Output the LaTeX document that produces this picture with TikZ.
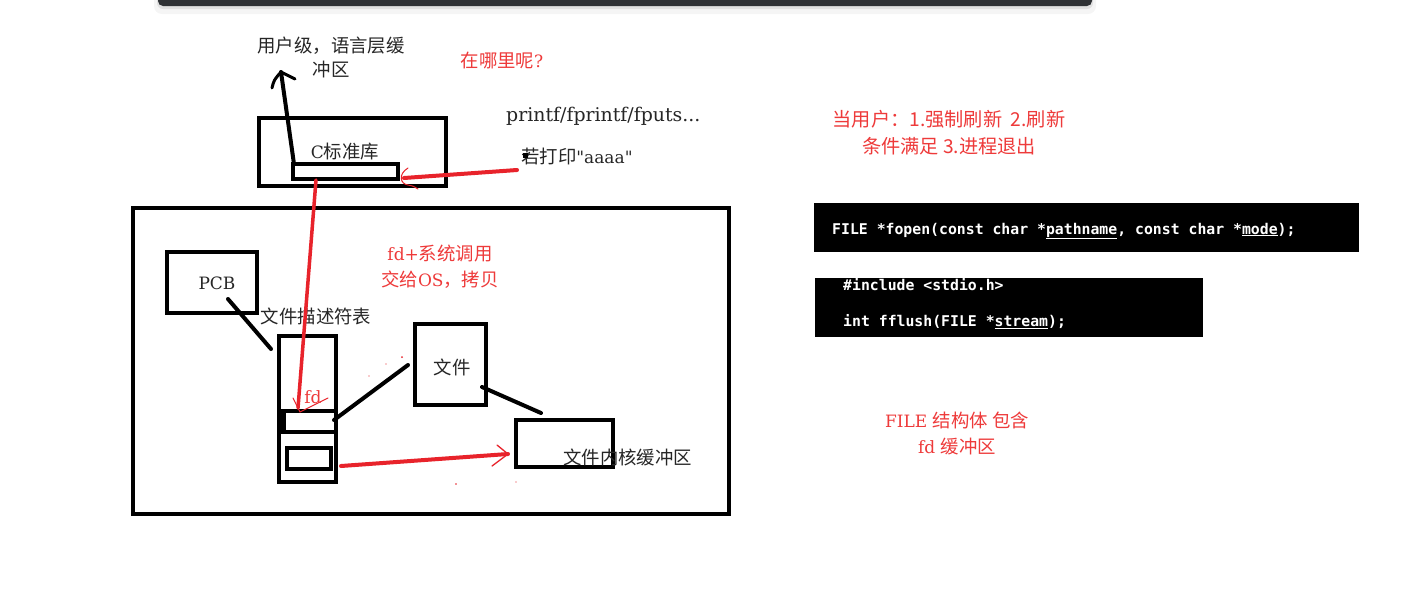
\documentclass[tikz,border=0pt]{standalone}
\usepackage{fontspec}
\setmainfont{DejaVu Serif}[Ligatures=TeXOff]
\newfontfamily\cjk{Noto Sans CJK SC}
\newfontfamily\codefont{DejaVu Sans Mono}
\definecolor{rd}{HTML}{E8232B}
\definecolor{rdt}{HTML}{EE3A3A}
\definecolor{bar}{HTML}{2F3235}
\tikzset{
  box/.style={draw=black, line width=4.5pt},
  thinbox/.style={draw=black, line width=4pt},
  blk/.style={draw=black, line width=4pt, line cap=round},
  redl/.style={draw=rd, line width=4pt, line cap=round},
  redthin/.style={draw=rd, line width=1pt, line cap=round},
  lbl/.style={inner sep=0pt, font=\fontsize{17}{21}\selectfont, text=black!85, align=center},
  rlbl/.style={inner sep=0pt, font=\fontsize{17}{26}\selectfont, text=rdt, align=center},
  codebox/.style={fill=black, draw=none},
  codetxt/.style={inner sep=0pt, anchor=west, text=white, font=\codefont\bfseries\fontsize{14.8}{18}\selectfont},
}
\newcommand{\cj}[1]{{\cjk\fontsize{18.4}{21}\selectfont #1}}
\begin{document}
\begin{tikzpicture}[x=1pt,y=-1pt]
\useasboundingbox[fill=white] (0,0) rectangle (1425,595);
% top bar with shadow
\fill[black, opacity=0.04, rounded corners=8] (154,-10) rectangle (1096,14);
\fill[black, opacity=0.08, rounded corners=6] (157,-10) rectangle (1093,9);
\fill[bar, rounded corners=5] (158,-10) rectangle (1092,6);

% user-level buffer label
\node[lbl] (user) at (331,57) {\cj{用户级，语言层缓}\\[3pt]\cj{冲区}};
\node[rlbl] (where) at (502,61) {\cj{在哪里呢}?};

% C library
\draw[box] (259,118) rectangle (446,186);
\node[lbl] (clib) at (345,152) {C\cj{标准库}};
\draw[thinbox] (293,164) rectangle (398,179);
\coordinate (cbuf) at (294,164);
\coordinate (cbufin) at (404,178);
\coordinate (cbufbot) at (316,180);
\coordinate (usertip) at (281,72);
\draw[blk] (cbuf) -- (usertip);
\draw[blk, line width=3pt] (272,88) .. controls (274,80) .. (usertip) -- (295,79);

\node[lbl, anchor=west, font=\fontsize{18.9}{22}\selectfont] (printf) at (506,116) {printf/fprintf/fputs...};
\node[lbl, anchor=west] (aaaa) at (521,156) {\cj{若打印}"aaaa"};
\coordinate (aaaastart) at (517,170);
\fill[black] (523,153) rectangle (528,158);
\draw[redl] (aaaastart) -- (cbufin);
\draw[redthin] (408,168) .. controls (398,174) and (400,184) .. (408,185) .. controls (413,186) .. (418,189);

% kernel box
\draw[thinbox] (133,208) rectangle (729,514);
\node[rlbl] (sys) at (440,267) {fd+\cj{系统调用}\\\cj{交给}OS\cj{，拷贝}};

% PCB
\draw[thinbox] (167,252) rectangle (257,313);
\node[lbl] (pcb) at (217,283) {PCB};
\node[lbl] (fdtlbl) at (316,316) {\cj{文件描述符表}};
\coordinate (pcbout) at (228,299);
\coordinate (tabin) at (271,349);
\draw[blk] (pcbout) -- (tabin);

% fd table
\draw[thinbox] (279,336) rectangle (336,482);
\draw[thinbox] (279,411) rectangle (336,432);
\draw[thinbox] (287,448) rectangle (331,469);
\fill[black] (277,409) rectangle (286,434);
\coordinate (fdcell) at (298,408);
\coordinate (fdcellr) at (334,420);
\coordinate (bufcellr) at (341,466);

\draw[redl, line width=3.5pt] (cbufbot) -- (fdcell);
\draw[redthin] (293,398) -- (300,412) -- (316,404) -- (328,398);
\node[rlbl] (fd) at (313,397) {fd};

% file box
\draw[thinbox] (415,324) rectangle (486,405);
\node[lbl] (file) at (452,367) {\cj{文件}};
\coordinate (filein) at (408,365);
\coordinate (fileout) at (482,387);
\draw[blk] (fdcellr) -- (filein);
\fill[rd] (402,357) circle (1pt) (386,364) circle (0.7pt) (369,376) circle (0.6pt);

% kernel buffer
\draw[thinbox] (516,420) rectangle (613,467);
\coordinate (kbin) at (541,413);
\coordinate (kbleft) at (508,454);
\draw[blk] (fileout) -- (kbin);
\node[lbl, anchor=west] (kbuf) at (563,457) {\cj{文件内核缓冲区}};
\draw[redl] (bufcellr) -- (kbleft);
\draw[redthin, line width=1.3pt] (497,445) -- (kbleft) -- (492,466);
\fill[rd] (456,484) circle (0.8pt) (516,482) circle (0.6pt);

% right side notes
\node[rlbl, font=\cjk\fontsize{19.2}{27}\selectfont] (flush) at (949,133) {当用户：1.强制刷新 \ 2.刷新\\条件满足 3.进程退出};

\fill[codebox] (814,203) rectangle (1359,252);
\node[codetxt] (fopen) at (832,231) {FILE *fopen(const char *\underline{pathname}, const char *\underline{mode});};
\fill[codebox] (815,278) rectangle (1203,337);
\node[codetxt] (inc) at (843,285) {\#include <stdio.h>};
\node[codetxt] (ffl) at (843,322) {int fflush(FILE *\underline{stream});};

\node[rlbl] (filestruct) at (957,433) {FILE \cj{结构体 包含}\\fd \cj{缓冲区}};
\end{tikzpicture}
\end{document}
